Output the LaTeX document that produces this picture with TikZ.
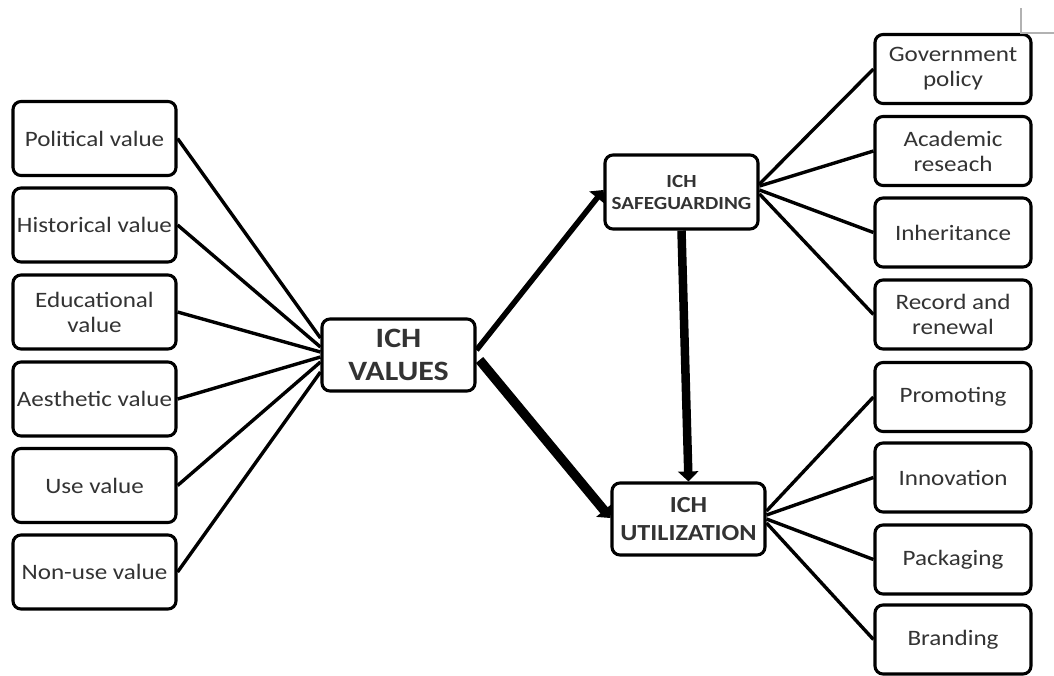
\documentclass[tikz,border=0pt]{standalone}
\usepackage{fontspec}
\setmainfont{Carlito}[FakeStretch=1.14]
\usetikzlibrary{arrows.meta,calc}

\tikzset{
  box/.style={draw, line width=3.1pt, rounded corners=8pt, align=center,
    inner sep=0pt, fill=white, text=black!80},
  leftbox/.style={box, minimum width=163pt, minimum height=74pt,
    font=\fontsize{22}{25}\selectfont},
  rightbox/.style={box, minimum width=156pt, minimum height=69pt,
    font=\fontsize{22}{25}\selectfont},
  hub/.style={box, minimum width=153pt, minimum height=72pt},
  spoke/.style={line width=3.4pt},
  flow/.style={-{Triangle[length=10pt,width=20pt]}},
  cropmark/.style={draw=black!30, line width=1.2pt}
}

\begin{document}
\begin{tikzpicture}[x=1pt,y=-1pt]
\useasboundingbox (0,0) rectangle (1054,675);

% value categories
\node[leftbox] (pol) at (94.5,138.5) {Political value};
\node[leftbox] (his) at (94.5,225)   {Historical value};
\node[leftbox] (edu) at (94.5,312)   {Educational\\value};
\node[leftbox] (aes) at (94.5,399)   {Aesthetic value};
\node[leftbox] (use) at (94.5,485.5) {Use value};
\node[leftbox] (non) at (94.5,572)   {Non-use value};

% central hubs
\node[hub, font=\bfseries\fontsize{28}{33}\selectfont] (vals) at (398.5,355) {ICH\\VALUES};
\node[hub, minimum height=74pt, font=\bfseries\fontsize{18.5}{22}\selectfont] (safe) at (681.5,192) {ICH\\SAFEGUARDING};
\node[hub, font=\bfseries\fontsize{23}{28}\selectfont] (util) at (688.5,519) {ICH\\UTILIZATION};

% safeguarding measures
\node[rightbox] (gov) at (953,69)    {Government\\policy};
\node[rightbox] (aca) at (953,151)   {Academic\\reseach};
\node[rightbox] (inh) at (953,232.5) {Inheritance};
\node[rightbox] (rec) at (953,314.5) {Record and\\renewal};

% utilization measures
\node[rightbox] (pro) at (953,397)   {Promoting};
\node[rightbox] (inn) at (953,477.5) {Innovation};
\node[rightbox] (pac) at (953,559.5) {Packaging};
\node[rightbox] (bra) at (953,639.5) {Branding};

% values fan into the central hub
\draw[spoke] (pol.east) -- ($(vals.west)+(0,-17)$);
\draw[spoke] (his.east) -- ($(vals.west)+(0,-8)$);
\draw[spoke] (edu.east) -- ($(vals.west)+(0,-3)$);
\draw[spoke] (aes.east) -- ($(vals.west)+(0,2)$);
\draw[spoke] (use.east) -- ($(vals.west)+(0,7)$);
\draw[spoke] (non.east) -- ($(vals.west)+(0,17)$);

% safeguarding fan
\draw[spoke] ($(safe.east)+(0,-8)$) -- (gov.west);
\draw[spoke] ($(safe.east)+(0,-6)$) -- (aca.west);
\draw[spoke] ($(safe.east)+(0,-2)$) -- (inh.west);
\draw[spoke] ($(safe.east)+(0,2)$)  -- (rec.west);

% utilization fan
\draw[spoke] ($(util.east)+(0,-8)$) -- (pro.west);
\draw[spoke] ($(util.east)+(0,-4)$) -- (inn.west);
\draw[spoke] ($(util.east)+(0,0)$)  -- (pac.west);
\draw[spoke] ($(util.east)+(0,4)$)  -- (bra.west);

% main flows
\draw[flow, line width=5.5pt] ($(vals.east)+(0,-5)$) -- ($(safe.west)+(0,-2)$);
\draw[flow, line width=9.5pt] ($(vals.east)+(3,5)$) -- ($(util.west)+(0,-1)$);
\draw[flow, line width=8.5pt] (safe.south) -- (util.north);

% page corner mark
\draw[cropmark] (1021,8) -- (1021,33) -- (1054,33);
\end{tikzpicture}
\end{document}
